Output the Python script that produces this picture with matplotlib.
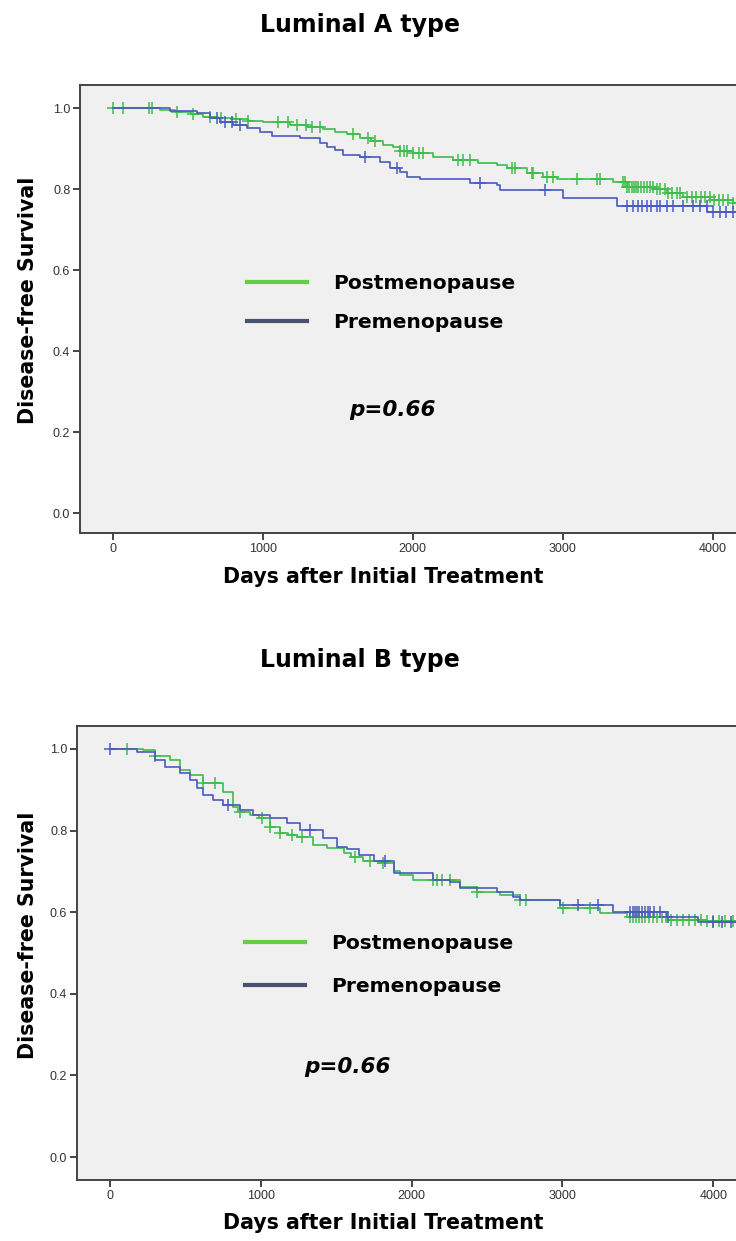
import numpy as np
import matplotlib.pyplot as plt
from matplotlib.lines import Line2D

# Luminal A - postmenopause (green)
a_post_t = [0, 315, 415, 520, 600, 700, 800, 900, 1000, 1180, 1300, 1400, 1480, 1560, 1650,
            1720, 1800, 1870, 1915, 2000, 2135, 2270, 2437, 2560, 2629, 2762, 2870, 2962,
            3335, 3429, 3602, 3695, 3802, 3982, 4135]
a_post_s = [1.0, 0.995, 0.99, 0.985, 0.979, 0.975, 0.972, 0.969, 0.966, 0.958, 0.953, 0.948,
            0.940, 0.935, 0.925, 0.918, 0.910, 0.903, 0.895, 0.888, 0.880, 0.872, 0.864, 0.859,
            0.852, 0.840, 0.830, 0.825, 0.817, 0.805, 0.800, 0.790, 0.780, 0.773, 0.765]
a_post_c = [0, 67, 243, 263, 430, 535, 650, 720, 820, 900, 1100, 1170, 1230, 1290, 1330, 1380,
            1600, 1700, 1750, 1915, 1940, 1960, 2005, 2040, 2070, 2300, 2335, 2382, 2662, 2682,
            2795, 2802, 2895, 2935, 3095, 3228, 3248, 3400, 3415, 3430, 3445, 3460, 3475, 3490,
            3505, 3520, 3540, 3560, 3580, 3600, 3630, 3650, 3680, 3700, 3730, 3760, 3782, 3830,
            3860, 3890, 3920, 3950, 3980, 4010, 4040, 4070, 4100, 4135]

# Luminal A - premenopause (blue)
a_pre_t = [0, 383, 560, 650, 716, 800, 893, 980, 1060, 1250, 1380, 1430, 1484, 1537, 1650, 1782,
           1849, 1915, 1960, 2049, 2382, 2562, 2582, 3002, 3362, 3962]
a_pre_s = [1.0, 0.993, 0.987, 0.975, 0.966, 0.958, 0.950, 0.940, 0.932, 0.925, 0.915, 0.905,
           0.896, 0.884, 0.879, 0.867, 0.852, 0.842, 0.830, 0.825, 0.815, 0.810, 0.797, 0.778,
           0.758, 0.744]
a_pre_c = [693, 750, 797, 849, 1684, 1895, 2449, 2882, 3429, 3470, 3500, 3530, 3560, 3590, 3630,
           3650, 3695, 3735, 3800, 3870, 3915, 3960, 4000, 4050, 4090, 4135]

# Luminal B - postmenopause (green)
b_post_t = [0, 219, 298, 398, 464, 530, 617, 749, 816, 850, 928, 990, 1061, 1127, 1180, 1240,
            1346, 1439, 1550, 1600, 1680, 1780, 1880, 1923, 2010, 2321, 2433, 2586, 2719, 2984,
            3249, 3428, 3700, 3950]
b_post_s = [1.0, 0.998, 0.983, 0.973, 0.948, 0.936, 0.916, 0.895, 0.858, 0.846, 0.838, 0.831,
            0.809, 0.794, 0.789, 0.784, 0.765, 0.757, 0.745, 0.735, 0.725, 0.720, 0.700, 0.691,
            0.679, 0.662, 0.650, 0.642, 0.630, 0.610, 0.598, 0.588, 0.582, 0.578]
b_post_c = [110, 298, 617, 696, 862, 1008, 1061, 1127, 1207, 1273, 1625, 1725, 1810, 2142, 2170,
            2200, 2255, 2433, 2719, 2760, 3004, 3183, 3448, 3470, 3490, 3510, 3530, 3550, 3575,
            3600, 3630, 3660, 3690, 3720, 3760, 3800, 3840, 3880, 3920, 3960, 4000, 4040, 4080,
            4130]

# Luminal B - premenopause (blue)
b_pre_t = [0, 178, 298, 365, 464, 530, 577, 617, 683, 750, 862, 948, 1061, 1174, 1260, 1412,
           1505, 1572, 1650, 1750, 1880, 2142, 2255, 2321, 2566, 2672, 2719, 2984, 3335, 3693,
           3900]
b_pre_s = [1.0, 0.993, 0.973, 0.956, 0.940, 0.924, 0.904, 0.887, 0.875, 0.863, 0.850, 0.838,
           0.831, 0.819, 0.801, 0.782, 0.760, 0.755, 0.740, 0.725, 0.696, 0.679, 0.674, 0.659,
           0.650, 0.637, 0.630, 0.618, 0.600, 0.588, 0.576]
b_pre_c = [0, 782, 1326, 1823, 3104, 3236, 3448, 3465, 3480, 3495, 3510, 3530, 3550, 3570, 3580,
           3610, 3650, 3700, 4000, 4060, 4120]

follow_end = 4400
groups = ["Postmenopause", "Premenopause"]
titles = ["Luminal A type", "Luminal B type"]
p_text = "p=0.66"

green = "#3dbd4b"
blue = "#4a5abf"
leg_green = "#66cc44"
leg_blue = "#465270"
bg = "#f0f0f0"
spine_c = "#444444"
font = "DejaVu Sans"


def surv_at(times, surv, t):
    idx = np.searchsorted(times, t, side="right") - 1
    return np.array(surv)[idx]


def km(ax, t, s, c, color):
    ax.step(list(t) + [follow_end], list(s) + [s[-1]], where="post", color=color, lw=1.2)
    ax.plot(c, surv_at(t, s, c), ls="none", marker="+", ms=8, mew=1.1, color=color)


fig = plt.figure(figsize=(7.36, 12.41), dpi=100)

panels = [
    dict(pos=[80 / 736, 1 - 533 / 1241, 686 / 736, 448 / 1241], xlim=(-218, 4355),
         ylim=(-0.049, 1.057), data=[(a_post_t, a_post_s, a_post_c), (a_pre_t, a_pre_s, a_pre_c)],
         title_y=1 - 25 / 1241, xlab_y=1 - 577 / 1241, ylab_y=1 - 300 / 1241,
         leg=(0.2434, 0.5785), spacing=1.0, p=(0.456, 0.275)),
    dict(pos=[77 / 736, 1 - 1180 / 1241, 689 / 736, 454 / 1241], xlim=(-219, 4350),
         ylim=(-0.056, 1.056), data=[(b_post_t, b_post_s, b_post_c), (b_pre_t, b_pre_s, b_pre_c)],
         title_y=1 - 660 / 1241, xlab_y=1 - 1223 / 1241, ylab_y=1 - 935 / 1241,
         leg=(0.244, 0.5426), spacing=1.2, p=(0.393, 0.249)),
]

for i, pn in enumerate(panels):
    ax = fig.add_axes(pn["pos"])
    ax.set_facecolor(bg)
    (pt, ps, pc), (qt, qs, qc) = pn["data"]
    km(ax, pt, ps, pc, green)
    km(ax, qt, qs, qc, blue)
    ax.set_xlim(*pn["xlim"])
    ax.set_ylim(*pn["ylim"])
    ax.set_xticks([0, 1000, 2000, 3000, 4000])
    ax.set_yticks([0.0, 0.2, 0.4, 0.6, 0.8, 1.0])
    ax.yaxis.set_major_formatter(plt.FormatStrFormatter("%.1f"))
    for sp in ax.spines.values():
        sp.set_color(spine_c)
        sp.set_linewidth(1.4)
    ax.tick_params(direction="out", length=5, width=1.4, color=spine_c, labelsize=9,
                   labelcolor="#333333", pad=2)
    for lab in ax.get_xticklabels() + ax.get_yticklabels():
        lab.set_family("Liberation Sans")

    handles = [Line2D([], [], color=leg_green, lw=3), Line2D([], [], color=leg_blue, lw=3)]
    ax.legend(handles, groups, loc="upper left", bbox_to_anchor=pn["leg"], frameon=False,
              borderpad=0, borderaxespad=0, handlelength=2.96, handletextpad=1.28,
              labelspacing=pn["spacing"],
              prop=dict(family=font, weight="bold", size=14.6))
    ax.text(pn["p"][0], pn["p"][1], p_text, transform=ax.transAxes, ha="center", va="center",
            fontsize=15.5, fontweight="bold", fontstyle="italic", family=font)

    fig.text(360 / 736, pn["title_y"], titles[i], ha="center", va="center", fontsize=17,
             fontweight="bold", family=font)
    fig.text(383 / 736, pn["xlab_y"], "Days after Initial Treatment", ha="center", va="center",
             fontsize=14.8, fontweight="bold", family=font)
    fig.text(28 / 736, pn["ylab_y"], "Disease-free Survival", ha="center", va="center",
             rotation=90, fontsize=14.8, fontweight="bold", family=font)

fig.savefig("out.png", dpi=100, facecolor="white")
